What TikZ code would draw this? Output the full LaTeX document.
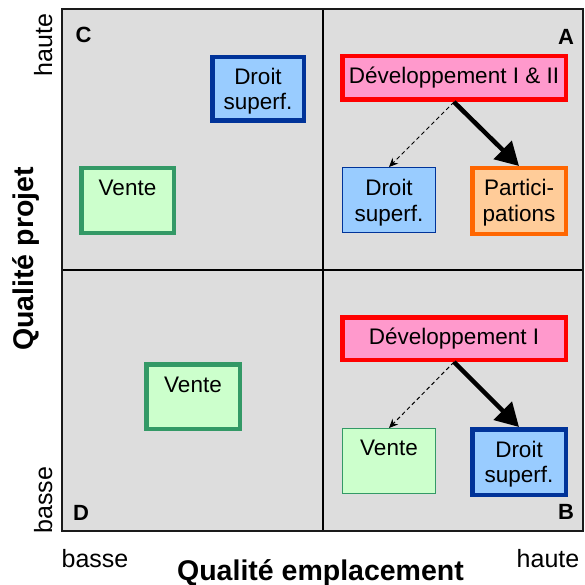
\documentclass[tikz,border=0pt]{standalone}
\usepackage{fontspec}
\setmainfont{Liberation Sans}
\usetikzlibrary{arrows.meta}
\definecolor{bggray}{HTML}{DDDDDD}
\definecolor{lblue}{HTML}{99CCFF}
\definecolor{dblue}{HTML}{003399}
\definecolor{lgreen}{HTML}{CCFFCC}
\definecolor{dgreen}{HTML}{339966}
\definecolor{lpink}{HTML}{FF99CC}
\definecolor{dred}{HTML}{FF0000}
\definecolor{lorange}{HTML}{FFCC99}
\definecolor{dorange}{HTML}{FF6600}
\definecolor{frameblack}{HTML}{1A1A1A}
\tikzset{
  box/.style={draw, inner sep=0pt, align=center, font=\fontsize{22.5}{25}\selectfont},
  boldborder/.style={line width=4.5pt},
  thinborder/.style={line width=1.2pt},
  bluebox/.style={box, fill=lblue, draw=dblue},
  greenbox/.style={box, fill=lgreen, draw=dgreen},
  pinkbox/.style={box, fill=lpink, draw=dred},
  orangebox/.style={box, fill=lorange, draw=dorange},
  corner/.style={anchor=base, inner sep=0pt, font=\fontsize{22}{24}\selectfont\bfseries},
  axisend/.style={anchor=base, inner sep=0pt, font=\fontsize{25}{27}\selectfont},
  axistitle/.style={anchor=base, inner sep=0pt, font=\fontsize{28.5}{30}\selectfont\bfseries},
  dasharrow/.style={line width=1pt, dash pattern=on 4pt off 3pt, -{Stealth[length=9pt,width=8pt]}},
  bigarrow/.style={line width=4.5pt, -{Triangle[length=23pt,width=25pt]}},
  gridline/.style={line width=2.6pt, draw=black}
}
\begin{document}
\begin{tikzpicture}[x=1pt,y=-1pt]
\useasboundingbox (0,0) rectangle (584,585);
% frame and quadrants
\fill[bggray] (62,9) rectangle (583,531);
\draw[gridline] (323,9) -- (323,531);
\draw[gridline] (62,270) -- (583,270);
\draw[line width=2pt, draw=frameblack] (62,9) rectangle (583,531);

% corner letters
\node[corner] (lc) at (83.5,43) {C};
\node[corner] (la) at (566,45) {A};
\node[corner] (lb) at (566,519) {B};
\node[corner] (ld) at (81,520) {D};

% quadrant C
\node[bluebox, boldborder, minimum width=91.5pt, inner ysep=0pt, text height=52.75pt, text depth=10.75pt] (droitC) at (258,89) {Droit\\superf.};
\node[greenbox, boldborder, minimum width=92.5pt, inner ysep=0pt, text height=27.75pt, text depth=36.75pt] (venteC) at (127.5,200.5) {Vente};

% quadrant A
\node[pinkbox, boldborder, minimum width=223.5pt, minimum height=43.5pt] (devA) at (454,78) {Développement I \& II};
\node[bluebox, thinborder, minimum width=92.8pt, inner ysep=0pt, text height=53.4pt, text depth=11.4pt] (droitA) at (389,200) {Droit\\superf.};
\node[orangebox, boldborder, minimum width=93.5pt, inner ysep=0pt, text height=52.75pt, text depth=12.75pt] (partA) at (519,201) {Partici-\\pations};
\draw[dasharrow] (devA.south) -- (droitA.north);
\draw[bigarrow] (devA.south) -- (partA.north);

% quadrant B
\node[pinkbox, boldborder, minimum width=223.5pt, minimum height=42.5pt] (devB) at (454,338.5) {Développement I};
\node[greenbox, thinborder, minimum width=92.8pt, inner ysep=0pt, text height=26.4pt, text depth=38.4pt] (venteB) at (389,461) {Vente};
\node[bluebox, boldborder, minimum width=93.5pt, inner ysep=0pt, text height=53.25pt, text depth=12.25pt] (droitB) at (519,462) {Droit\\superf.};
\draw[dasharrow] (devB.south) -- (venteB.north);
\draw[bigarrow] (devB.south) -- (droitB.north);

% quadrant D
\node[greenbox, boldborder, minimum width=93.5pt, inner ysep=0pt, text height=27.75pt, text depth=36.75pt] (venteD) at (193,396.5) {Vente};

% axis labels
\node[axisend, rotate=90] (yhaute) at (52,45) {haute};
\node[axisend, rotate=90] (ybasse) at (52,500) {basse};
\node[axistitle, rotate=90] (ytitle) at (33.5,259) {Qualité projet};
\node[axisend] (xbasse) at (95,567) {basse};
\node[axisend] (xhaute) at (548,567) {haute};
\node[axistitle] (xtitle) at (320.5,580) {Qualité emplacement};
\end{tikzpicture}
\end{document}
